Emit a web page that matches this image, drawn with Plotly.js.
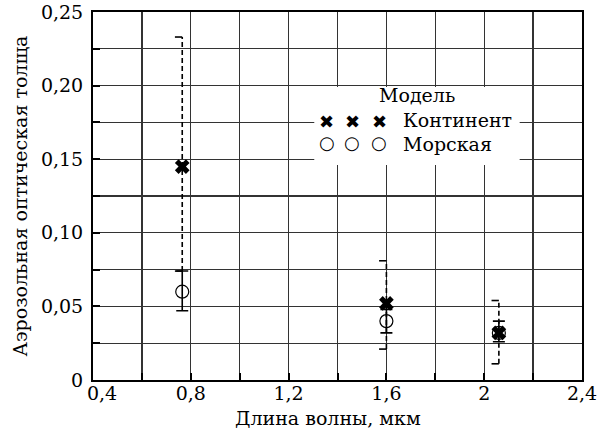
<!DOCTYPE html>
<html>
<head>
<meta charset="utf-8">
<script src="https://cdn.plot.ly/plotly-3.0.1.min.js"></script>
<style>html,body{margin:0;padding:0;background:#fff;}#chart{width:614px;height:438px;}</style>
</head>
<body>
<div id="chart"></div>
<script>
// Wavelength, µm
const wavelength = [0.765, 1.6, 2.06];
// Continental model: value and error range
const contValue = [0.145, 0.052, 0.032];
const contLow   = [0.074, 0.021, 0.011];
const contHigh  = [0.233, 0.081, 0.054];
// Marine model: value and error range
const marValue = [0.060, 0.040, 0.032];
const marLow   = [0.047, 0.032, 0.026];
const marHigh  = [0.074, 0.048, 0.040];

const xTickVals = [0.4, 0.8, 1.2, 1.6, 2.0, 2.4];
const xTickText = ['\u00a0\u00a0\u00a00,4', '0,8', '1,2', '1,6', '2', '2,4'];
const yTickVals = [0, 0.05, 0.10, 0.15, 0.20, 0.25];
const yTickText = ['0', '0,05', '0,10', '0,15', '0,20', '0,25'];

const FONT = 'DejaVu Serif';
const FS = 19;
const capHalf = 0.03; // cap length in x units (style)

// dashed continental error stems
const stemX = [], stemY = [], capX = [], capY = [];
wavelength.forEach((x, i) => {
  stemX.push(x, x, null); stemY.push(contLow[i], contHigh[i], null);
  capX.push(x - capHalf, x, null, x - capHalf, x, null);
  capY.push(contHigh[i], contHigh[i], null, contLow[i], contLow[i], null);
});

const traces = [
  {x: stemX, y: stemY, mode: 'lines', line: {color: '#000', width: 1.6, dash: '5px,3px'}, showlegend: false, hoverinfo: 'skip'},
  {x: capX, y: capY, mode: 'lines', line: {color: '#000', width: 1.6}, showlegend: false, hoverinfo: 'skip'},
  {x: wavelength, y: marValue, mode: 'markers', name: 'Морская',
   marker: {symbol: 'circle-open', size: 13, color: '#000', line: {width: 1.2, color: '#000'}},
   error_y: {type: 'data', symmetric: false,
     array: marHigh.map((h, i) => h - marValue[i]),
     arrayminus: marValue.map((v, i) => v - marLow[i]),
     color: '#000', thickness: 1.6, width: 6},
   showlegend: false},
  {x: wavelength, y: contValue, mode: 'markers', name: 'Континент',
   marker: {symbol: 'x', size: 13, color: '#000', line: {width: 0}},
   showlegend: false}
];

// legend decoration
const legX0 = 1.305, legX1 = 2.145, legY0 = 0.146, legY1 = 0.199;
const annotations = [
  {xref: 'paper', yref: 'paper', x: 0.5 - 10/489, y: -0.103, xanchor: 'center', yanchor: 'middle',
   text: 'Длина волны, мкм', showarrow: false, font: {family: FONT, size: FS, color: '#000'}},
  {xref: 'x', yref: 'y', x: 1.725, y: 0.1935, text: 'Модель', showarrow: false,
   xanchor: 'center', yanchor: 'middle', font: {family: FONT, size: FS, color: '#000'}},
  {xref: 'x', yref: 'y', x: 1.66, y: 0.1765, text: 'Континент', showarrow: false,
   xanchor: 'left', yanchor: 'middle', font: {family: FONT, size: FS, color: '#000'}},
  {xref: 'x', yref: 'y', x: 1.66, y: 0.1605, text: 'Морская', showarrow: false,
   xanchor: 'left', yanchor: 'middle', font: {family: FONT, size: FS, color: '#000'}}
];
[1.355, 1.46, 1.57].forEach(x => {
  annotations.push({xref: 'x', yref: 'y', x: x, y: 0.1755, text: '✖', showarrow: false,
    xanchor: 'center', yanchor: 'middle', font: {family: 'DejaVu Sans', size: 18, color: '#000'}});
  annotations.push({xref: 'x', yref: 'y', x: x, y: 0.1615, text: '○', showarrow: false,
    xanchor: 'center', yanchor: 'middle', font: {family: 'DejaVu Sans', size: 18, color: '#000'}});
});

const layout = {
  width: 614, height: 438,
  margin: {l: 93, r: 32, t: 12, b: 58},
  paper_bgcolor: '#fff', plot_bgcolor: '#fff',
  font: {family: FONT, size: FS, color: '#000'},
  showlegend: false,
  xaxis: {
    range: [0.4, 2.4], tickvals: xTickVals, ticktext: xTickText,
    showgrid: true, gridcolor: '#333', gridwidth: 1.2,
    minor: {dtick: 0.2, tick0: 0.4, showgrid: true, gridcolor: '#333', gridwidth: 1.2, ticks: 'inside', ticklen: 7, tickwidth: 2, tickcolor: '#000'},
    ticks: 'inside', ticklen: 7, tickwidth: 2, tickcolor: '#000',
    showline: true, linecolor: '#000', linewidth: 2, mirror: true,
    zeroline: false, ticklabelstandoff: -5,
    tickfont: {family: FONT, size: FS, color: '#000'}
  },
  yaxis: {
    range: [0, 0.25], tickvals: yTickVals, ticktext: yTickText,
    showgrid: true, gridcolor: '#333', gridwidth: 1.2,
    minor: {dtick: 0.025, tick0: 0, showgrid: true, gridcolor: '#333', gridwidth: 1.2, ticks: 'inside', ticklen: 7, tickwidth: 2, tickcolor: '#000'},
    ticks: 'inside', ticklen: 7, tickwidth: 2, tickcolor: '#000',
    showline: true, linecolor: '#000', linewidth: 2, mirror: true,
    zeroline: false, ticklabelstandoff: 4,
    tickfont: {family: FONT, size: FS, color: '#000'},
    title: {text: 'Аэрозольная оптическая толща', font: {family: FONT, size: FS, color: '#000'}, standoff: 8}
  },
  shapes: [
    {type: 'rect', xref: 'x', yref: 'y', x0: legX0, x1: legX1, y0: legY0, y1: legY1,
     fillcolor: '#fff', line: {width: 0}, layer: 'between'}
  ],
  annotations: annotations
};

Plotly.newPlot('chart', traces, layout, {staticPlot: true, displayModeBar: false});
</script>
</body>
</html>
